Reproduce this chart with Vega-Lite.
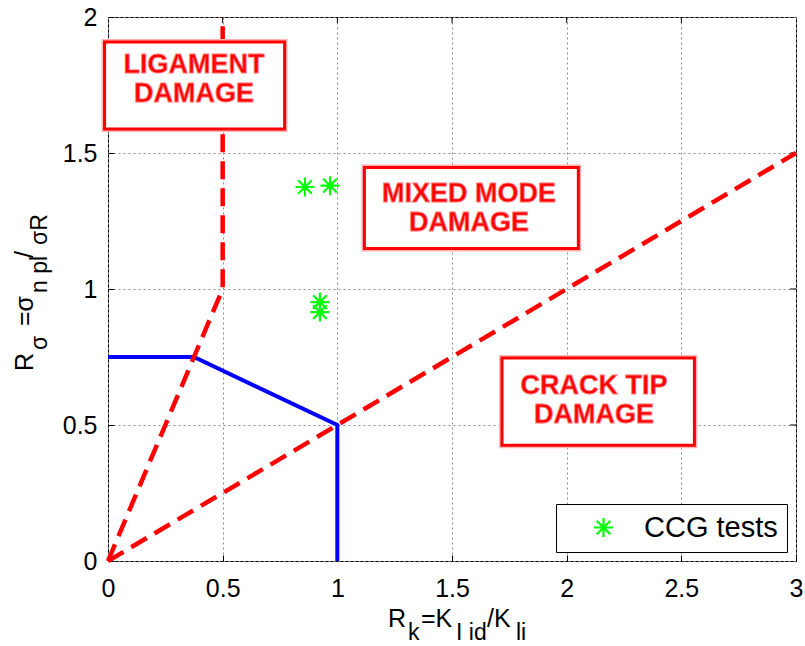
{
  "$schema": "https://vega.github.io/schema/vega-lite/v6.json",
  "width": 688,
  "height": 544,
  "autosize": {"type": "none"},
  "padding": {"left": 108, "top": 17, "right": 9, "bottom": 85},
  "background": "white",
  "config": {
    "view": {"stroke": "black", "strokeWidth": 1},
    "font": "Liberation Sans"
  },
  "layer": [
    {
      "data": {"values": [
        {"x": 0, "y": 0.75, "i": 1},
        {"x": 0.375, "y": 0.75, "i": 2},
        {"x": 1, "y": 0.5, "i": 3},
        {"x": 1, "y": 0, "i": 4}
      ]},
      "mark": {"type": "line", "color": "#0000ff", "strokeWidth": 4},
      "encoding": {
        "x": {
          "field": "x", "type": "quantitative",
          "scale": {"domain": [0, 3], "nice": false, "zero": false},
          "axis": {
            "values": [0, 0.5, 1, 1.5, 2, 2.5, 3], "format": "~g", "title": null,
            "grid": true, "gridColor": "#8c8c8c", "gridDash": [2, 3], "gridWidth": 1,
            "domain": false, "tickSize": -6, "tickColor": "black", "tickWidth": 1,
            "labelPadding": 21, "labelFontSize": 25, "labelColor": "black",
            "labelFont": "Liberation Sans", "labelFlush": false, "labelOverlap": false
          }
        },
        "y": {
          "field": "y", "type": "quantitative",
          "scale": {"domain": [0, 2], "nice": false, "zero": false},
          "axis": {
            "values": [0, 0.5, 1, 1.5, 2], "format": "~g", "title": null,
            "grid": true, "gridColor": "#8c8c8c", "gridDash": [2, 3], "gridWidth": 1,
            "domain": false, "tickSize": -6, "tickColor": "black", "tickWidth": 1,
            "labelPadding": 17, "labelFontSize": 25, "labelColor": "black",
            "labelFont": "Liberation Sans", "labelFlush": false, "labelOverlap": false
          }
        },
        "order": {"field": "i", "type": "quantitative"}
      }
    },
    {
      "data": {"values": [{"t": 0.5}, {"t": 1}, {"t": 1.5}, {"t": 2}, {"t": 2.5}]},
      "mark": {"type": "rule", "color": "black", "strokeWidth": 1},
      "encoding": {"x": {"field": "t", "type": "quantitative"}, "y": {"datum": 2}, "y2": {"datum": 1.978}}
    },
    {
      "data": {"values": [{"t": 0.5}, {"t": 1}, {"t": 1.5}]},
      "mark": {"type": "rule", "color": "black", "strokeWidth": 1},
      "encoding": {"y": {"field": "t", "type": "quantitative"}, "x": {"datum": 3}, "x2": {"datum": 2.974}}
    },
    {
      "data": {"values": [
        {"x": 0, "y": 0, "i": 1},
        {"x": 0.5, "y": 1, "i": 2},
        {"x": 0.5, "y": 2, "i": 3}
      ]},
      "mark": {"type": "line", "color": "#ff0000", "strokeWidth": 4.5, "strokeDash": [18, 9]},
      "encoding": {
        "x": {"field": "x", "type": "quantitative"},
        "y": {"field": "y", "type": "quantitative"},
        "order": {"field": "i", "type": "quantitative"}
      }
    },
    {
      "data": {"values": [
        {"x": 0, "y": 0, "i": 1},
        {"x": 3, "y": 1.5, "i": 2}
      ]},
      "mark": {"type": "line", "color": "#ff0000", "strokeWidth": 4.5, "strokeDash": [18, 9]},
      "encoding": {
        "x": {"field": "x", "type": "quantitative"},
        "y": {"field": "y", "type": "quantitative"},
        "order": {"field": "i", "type": "quantitative"}
      }
    },
    {
      "data": {"name": "boxes", "values": [
        {"label": ["LIGAMENT", "DAMAGE"], "x1": -0.015, "x2": 0.77, "y1": 1.908, "y2": 1.588, "cx": 0.375, "cy": 1.776},
        {"label": ["MIXED MODE", "DAMAGE"], "x1": 1.118, "x2": 2.051, "y1": 1.447, "y2": 1.149, "cx": 1.574, "cy": 1.30},
        {"label": ["CRACK TIP", "DAMAGE"], "x1": 1.718, "x2": 2.557, "y1": 0.746, "y2": 0.426, "cx": 2.119, "cy": 0.596}
      ]},
      "layer": [
        {
          "mark": {"type": "rect", "fill": "white", "stroke": "#ffb3b3", "strokeWidth": 6, "clip": false},
          "encoding": {
            "x": {"field": "x1", "type": "quantitative"},
            "x2": {"field": "x2"},
            "y": {"field": "y1", "type": "quantitative"},
            "y2": {"field": "y2"}
          }
        },
        {
          "mark": {"type": "rect", "fill": "white", "stroke": "#ff0000", "strokeWidth": 3, "clip": false},
          "encoding": {
            "x": {"field": "x1", "type": "quantitative"},
            "x2": {"field": "x2"},
            "y": {"field": "y1", "type": "quantitative"},
            "y2": {"field": "y2"}
          }
        },
        {
          "mark": {"type": "text", "font": "Liberation Sans", "fontWeight": "bold", "fontSize": 27, "lineHeight": 29, "fill": "#ff0000", "stroke": "#ff7070", "strokeWidth": 0.8, "align": "center", "baseline": "middle", "dy": -13},
          "encoding": {
            "x": {"field": "cx", "type": "quantitative"},
            "y": {"field": "cy", "type": "quantitative"},
            "text": {"field": "label"}
          }
        }
      ]
    },
    {
      "data": {"values": [
        {"x": 0.859, "y": 1.375, "series": "CCG tests"},
        {"x": 0.968, "y": 1.38, "series": "CCG tests"},
        {"x": 0.924, "y": 0.952, "series": "CCG tests"},
        {"x": 0.924, "y": 0.915, "series": "CCG tests"}
      ]},
      "mark": {"type": "point", "shape": "M-1,0L1,0M0,-1L0,1M-0.72,-0.72L0.72,0.72M-0.72,0.72L0.72,-0.72", "filled": false, "size": 361, "strokeWidth": 2.2, "opacity": 1},
      "encoding": {
        "x": {"field": "x", "type": "quantitative"},
        "y": {"field": "y", "type": "quantitative"},
        "color": {
          "field": "series", "type": "nominal",
          "scale": {"range": ["#00ff00"]},
          "legend": {
            "title": null, "orient": "bottom-right", "offset": 9,
            "strokeColor": "black", "fillColor": "white", "padding": 9, "cornerRadius": 0,
            "labelFontSize": 29, "labelFont": "Liberation Sans", "labelColor": "black",
            "symbolType": "M-1,0L1,0M0,-1L0,1M-0.72,-0.72L0.72,0.72M-0.72,0.72L0.72,-0.72",
            "symbolSize": 361, "symbolStrokeWidth": 2.2, "symbolStrokeColor": "#00ff00", "symbolFillColor": "transparent",
            "symbolOffset": 24, "labelOffset": 26
          }
        }
      }
    },
    {"data": {"values": [{}]}, "mark": {"type": "text", "text": "R", "fontSize": 25, "align": "left", "baseline": "alphabetic", "fill": "black", "dx": -64, "dy": 66}, "encoding": {"x": {"datum": 1.5}, "y": {"datum": 0}}},
    {"data": {"values": [{}]}, "mark": {"type": "text", "text": "k", "fontSize": 23, "align": "left", "baseline": "alphabetic", "fill": "black", "dx": -44, "dy": 79}, "encoding": {"x": {"datum": 1.5}, "y": {"datum": 0}}},
    {"data": {"values": [{}]}, "mark": {"type": "text", "text": "=K", "fontSize": 25, "align": "left", "baseline": "alphabetic", "fill": "black", "dx": -31, "dy": 66}, "encoding": {"x": {"datum": 1.5}, "y": {"datum": 0}}},
    {"data": {"values": [{}]}, "mark": {"type": "text", "text": "I id", "fontSize": 23, "align": "left", "baseline": "alphabetic", "fill": "black", "dx": 4, "dy": 79}, "encoding": {"x": {"datum": 1.5}, "y": {"datum": 0}}},
    {"data": {"values": [{}]}, "mark": {"type": "text", "text": "/K", "fontSize": 25, "align": "left", "baseline": "alphabetic", "fill": "black", "dx": 35, "dy": 66}, "encoding": {"x": {"datum": 1.5}, "y": {"datum": 0}}},
    {"data": {"values": [{}]}, "mark": {"type": "text", "text": "li", "fontSize": 23, "align": "left", "baseline": "alphabetic", "fill": "black", "dx": 64, "dy": 79}, "encoding": {"x": {"datum": 1.5}, "y": {"datum": 0}}},
    {"data": {"values": [{}]}, "mark": {"type": "text", "text": "R", "fontSize": 25, "angle": 270, "align": "left", "baseline": "alphabetic", "fill": "black", "dx": -82, "dy": -75}, "encoding": {"x": {"datum": 0}, "y": {"datum": 1}}},
    {"data": {"values": [{}]}, "mark": {"type": "text", "text": "σ", "fontSize": 23, "angle": 270, "align": "left", "baseline": "alphabetic", "fill": "black", "dx": -61, "dy": -61}, "encoding": {"x": {"datum": 0}, "y": {"datum": 1}}},
    {"data": {"values": [{}]}, "mark": {"type": "text", "text": "=σ", "fontSize": 25, "angle": 270, "align": "left", "baseline": "alphabetic", "fill": "black", "dx": -37, "dy": -75}, "encoding": {"x": {"datum": 0}, "y": {"datum": 1}}},
    {"data": {"values": [{}]}, "mark": {"type": "text", "text": "n pl", "fontSize": 23, "angle": 270, "align": "left", "baseline": "alphabetic", "fill": "black", "dx": -4, "dy": -61}, "encoding": {"x": {"datum": 0}, "y": {"datum": 1}}},
    {"data": {"values": [{}]}, "mark": {"type": "text", "text": "/", "fontSize": 25, "angle": 270, "align": "left", "baseline": "alphabetic", "fill": "black", "dx": 31, "dy": -75}, "encoding": {"x": {"datum": 0}, "y": {"datum": 1}}},
    {"data": {"values": [{}]}, "mark": {"type": "text", "text": "σR", "fontSize": 23, "angle": 270, "align": "left", "baseline": "alphabetic", "fill": "black", "dx": 44, "dy": -61}, "encoding": {"x": {"datum": 0}, "y": {"datum": 1}}}
  ]
}
